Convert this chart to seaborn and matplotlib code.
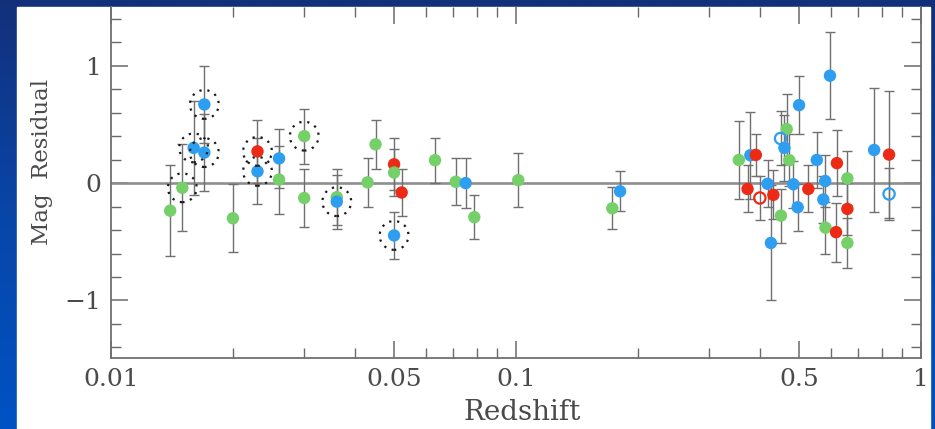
import numpy as np
import pandas as pd
import matplotlib
matplotlib.use("Agg")
import matplotlib.pyplot as plt
import seaborn as sns
from matplotlib.patches import Rectangle
from matplotlib.colors import LinearSegmentedColormap
from matplotlib.ticker import FixedLocator, NullFormatter

# ---------------- data ----------------
redshift = [0.0140, 0.0150, 0.0160, 0.0170, 0.0170, 0.0200, 0.0230, 0.0230, 0.0260, 0.0260,
            0.0300, 0.0300, 0.0361, 0.0361, 0.0430, 0.0450, 0.0500, 0.0500, 0.0522, 0.0500,
            0.0631, 0.0710, 0.0751, 0.0789, 0.1013, 0.1729, 0.1807,
            0.355, 0.379, 0.391, 0.373, 0.400, 0.418, 0.432, 0.426, 0.450, 0.460,
            0.466, 0.473, 0.451, 0.484, 0.496, 0.500, 0.527, 0.553, 0.596, 0.574,
            0.580, 0.581, 0.620, 0.617, 0.658, 0.658, 0.658, 0.766, 0.834, 0.834]
residual = [-0.235, -0.04, 0.30, 0.67, 0.26, -0.30, 0.27, 0.10, 0.21, 0.03,
            0.40, -0.127, -0.12, -0.158, 0.006, 0.33, 0.16, 0.09, -0.08, -0.446,
            0.195, 0.011, 0.0, -0.29, 0.025, -0.215, -0.07,
            0.197, 0.237, 0.24, -0.05, -0.127, -0.006, -0.10, -0.51, 0.38, 0.30,
            0.46, 0.195, -0.277, -0.01, -0.206, 0.664, -0.05, 0.197, 0.915, -0.14,
            0.017, -0.38, 0.17, -0.418, 0.04, -0.22, -0.51, 0.282, 0.243, -0.093]
error = [0.39, 0.37, 0.40, 0.33, 0.33, 0.29, 0.27, 0.28, 0.25, 0.29,
         0.235, 0.25, 0.24, 0.23, 0.21, 0.21, 0.22, 0.20, 0.20, 0.20,
         0.19, 0.20, 0.21, 0.19, 0.23, 0.18, 0.17,
         0.33, 0.37, 0.18, 0.20, 0.19, 0.20, 0.21, 0.49, 0.23, 0.28,
         0.30, 0.22, 0.23, 0.20, 0.20, 0.25, 0.20, 0.24, 0.37, 0.20,
         0.22, 0.22, 0.28, 0.25, 0.23, 0.22, 0.21, 0.53, 0.54, 0.22]
sample = ["green", "green", "blue", "blue", "blue", "green", "red", "blue", "blue", "green",
          "green", "green", "green", "blue", "green", "green", "red", "green", "red", "blue",
          "green", "green", "blue", "green", "green", "green", "blue",
          "green", "blue", "red", "red", "red", "blue", "red", "blue", "blue", "blue",
          "green", "green", "green", "blue", "blue", "blue", "red", "blue", "blue", "blue",
          "blue", "green", "red", "red", "green", "red", "green", "blue", "red", "blue"]
open_marker = [0] * 31 + [1] + [0] * 3 + [1] + [0] * 20 + [1]
circled = [0, 1, 1, 1, 1, 0, 1, 1, 0, 0,
           1, 0, 0, 1, 0, 0, 0, 0, 0, 1,
           0, 0, 0, 0, 0, 0, 0] + [0] * 30

x_ticks = [0.01, 0.05, 0.1, 0.5, 1]
x_tick_labels = ["0.01", "0.05", "0.1", "0.5", "1"]
y_ticks = [-1, 0, 1]
y_tick_labels = ["\u22121", "0", "1"]

palette = {"blue": "#2e9ef0", "green": "#76d06a", "red": "#ec2a16"}

df = pd.DataFrame({"z": redshift, "resid": residual, "err": error, "sample": sample,
                   "open": np.array(open_marker, bool), "circ": np.array(circled, bool)})

# ---------------- figure ----------------
sns.set_style("ticks")
plt.rcParams["font.family"] = ["DejaVu Serif", "DejaVu Sans"]

W, H = 935, 429
fig = plt.figure(figsize=(W / 100, H / 100), dpi=100)

# slide background: blue gradient with white panel
bg = fig.add_axes([0, 0, 1, 1])
cmap = LinearSegmentedColormap.from_list("slide", ["#0052c4", "#0846a8", "#13307a"])
grad = np.linspace(0, 1, 256).reshape(-1, 1)
bg.imshow(grad, aspect="auto", extent=[0, 1, 0, 1], cmap=cmap, origin="lower")
bg.add_patch(Rectangle((17 / W, 0), (930 - 17) / W, (H - 7) / H, color="white", zorder=2))
bg.set_xlim(0, 1); bg.set_ylim(0, 1)
bg.axis("off")

ax = fig.add_axes([111 / W, (H - 358) / H, (921 - 111) / W, (358 - 7) / H])
ax.set_facecolor("none")

ax.axhline(0, color="#8e8e8e", lw=1.9, zorder=1)
ax.errorbar(df["z"], df["resid"], yerr=df["err"], fmt="none", ecolor="#707070",
            elinewidth=1.0, capsize=3.5, capthick=1.0, zorder=2)

filled = df[~df["open"]]
sns.scatterplot(data=filled, x="z", y="resid", hue="sample", palette=palette, s=80,
                edgecolor="none", linewidth=0, legend=False, ax=ax, zorder=3)

opened = df[df["open"]]
ax.scatter(opened["z"], opened["resid"], s=66, facecolors="none",
           edgecolors=[palette[c] for c in opened["sample"]], linewidths=1.6, zorder=3)

circ = df[df["circ"]]
ax.scatter(circ["z"], circ["resid"], s=430, facecolors="none", edgecolors="#1a1a1a",
           linewidths=1.6, linestyles=(0, (1, 2.6)), zorder=4)

ax.set_xscale("log")
ax.set_xlim(0.01, 1)
ax.set_ylim(-1.49, 1.5)

ax.set_xticks(x_ticks, labels=x_tick_labels)
minor_x = [m * 10.0 ** e for e in (-2, -1) for m in range(2, 10) if m != 5]
ax.xaxis.set_minor_locator(FixedLocator(minor_x))
ax.xaxis.set_minor_formatter(NullFormatter())
ax.set_yticks(y_ticks, labels=y_tick_labels)
ax.yaxis.set_minor_locator(FixedLocator(np.round(np.arange(-1.4, 1.41, 0.2), 1)))

ax.tick_params(which="both", direction="in", top=True, right=True, color="#6a6a6a",
               labelcolor="#4a4a4a", labelsize=18)
ax.tick_params(which="major", length=12, width=1.1)
ax.tick_params(which="minor", length=7, width=1.0)
ax.tick_params(axis="x", which="both", pad=7)
ax.tick_params(axis="y", which="both", pad=7)

for side in ["left", "right", "bottom"]:
    ax.spines[side].set_color("#707070")
    ax.spines[side].set_linewidth(1.3)
ax.spines["top"].set_visible(False)

ax.set_xlabel("Redshift", fontsize=20, color="#4a4a4a")
ax.set_ylabel("Mag  Residual", fontsize=16.5, color="#4a4a4a")
ax.xaxis.set_label_coords(0.508, -0.118)
ax.yaxis.set_label_coords(-0.072, 0.558)

fig.savefig("out.png", dpi=100)
